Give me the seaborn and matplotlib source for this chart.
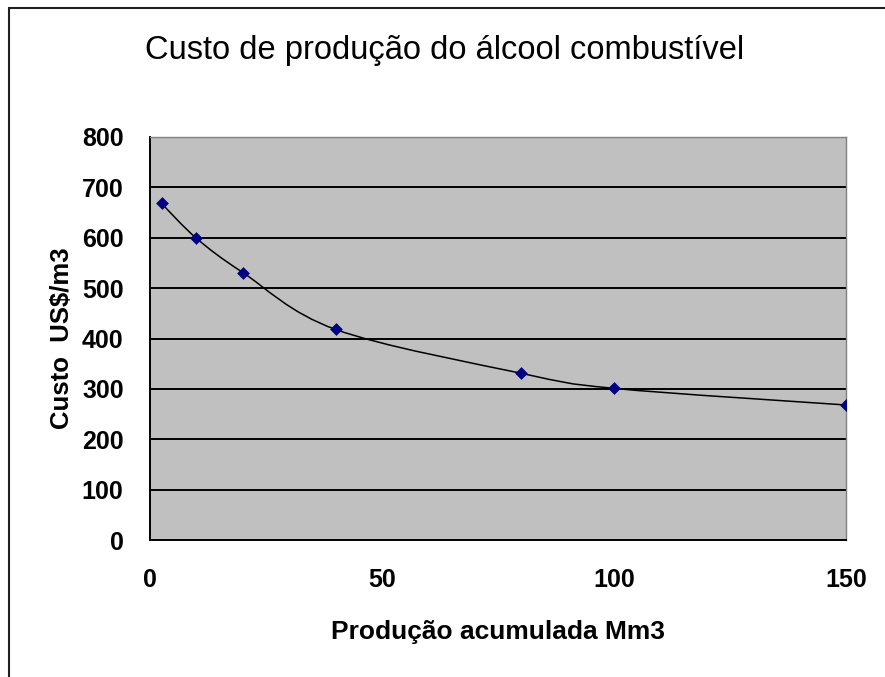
import numpy as np
import pandas as pd
import matplotlib
matplotlib.use("Agg")
import matplotlib.pyplot as plt
import seaborn as sns
from matplotlib.path import Path
from matplotlib.patches import PathPatch, Rectangle

producao = [2.5, 10, 20, 40, 80, 100, 150]
custo = [668, 599, 531, 418, 331, 301, 268]
x_ticks = [0, 50, 100, 150]
y_ticks = [0, 100, 200, 300, 400, 500, 600, 700, 800]

df = pd.DataFrame({"producao": producao, "custo": custo})

sns.set_style("white")
plt.rcParams['font.family'] = ['Liberation Sans', 'DejaVu Sans']
plt.rcParams['text.color'] = 'black'
plt.rcParams['axes.labelcolor'] = 'black'
plt.rcParams['xtick.color'] = 'black'
plt.rcParams['ytick.color'] = 'black'

fig = plt.figure(figsize=(8.85, 6.77), dpi=100)
ax = fig.add_axes([150/885, 1-540/677, 696/885, 403/677])
ax.set_facecolor("#c0c0c0")

# excel style smoothed line through the points (bezier segments)
pts = np.column_stack([producao, custo]).astype(float)
verts = [pts[0]]
codes = [Path.MOVETO]
n = len(pts)
for i in range(n-1):
    p0 = pts[max(i-1, 0)]
    p1 = pts[i]
    p2 = pts[i+1]
    p3 = pts[min(i+2, n-1)]
    c1 = p1 + (p2-p0)/6
    c2 = p2 - (p3-p1)/6
    verts += [c1, c2, p2]
    codes += [Path.CURVE4]*3
ax.add_patch(PathPatch(Path(verts, codes), facecolor="none", edgecolor="black", lw=1.1, zorder=3))

sns.scatterplot(data=df, x="producao", y="custo", ax=ax, marker="D", color="#000080",
                s=36, edgecolor="#000080", zorder=4, legend=False)

ax.set_xlim(0, 150)
ax.set_ylim(0, 800)
ax.set_xticks(x_ticks)
ax.set_yticks(y_ticks)
for v in y_ticks[1:-1]:
    ax.axhline(v, color="black", lw=1.4, zorder=1)

for s in ["left", "bottom"]:
    ax.spines[s].set_color("black")
    ax.spines[s].set_linewidth(1.4)
for s in ["top", "right"]:
    ax.spines[s].set_color("#808080")
    ax.spines[s].set_linewidth(1.0)

ax.tick_params(axis="both", direction="out", length=6, width=1.2, color="black",
               labelsize=18)
ax.tick_params(axis="y", pad=13)
ax.tick_params(axis="x", pad=14)
for lab in ax.get_xticklabels() + ax.get_yticklabels():
    lab.set_fontweight("bold")

ax.set_xlabel("Produção acumulada Mm3", fontsize=19, fontweight="bold", labelpad=20)
ax.set_ylabel("Custo  US$/m3", fontsize=18.5, fontweight="bold", labelpad=6)

fig.text(445/885, 1-50/677, "Custo de produção do álcool combustível",
         ha="center", va="center", fontsize=23.5)

# chart frame (cut off on right and bottom)
fig.patches.append(Rectangle((9/885, -0.2), 1.2, 1.2-8/677, transform=fig.transFigure,
                             fill=False, edgecolor="#202020", lw=1.5))

plt.savefig("out.png", dpi=100)
